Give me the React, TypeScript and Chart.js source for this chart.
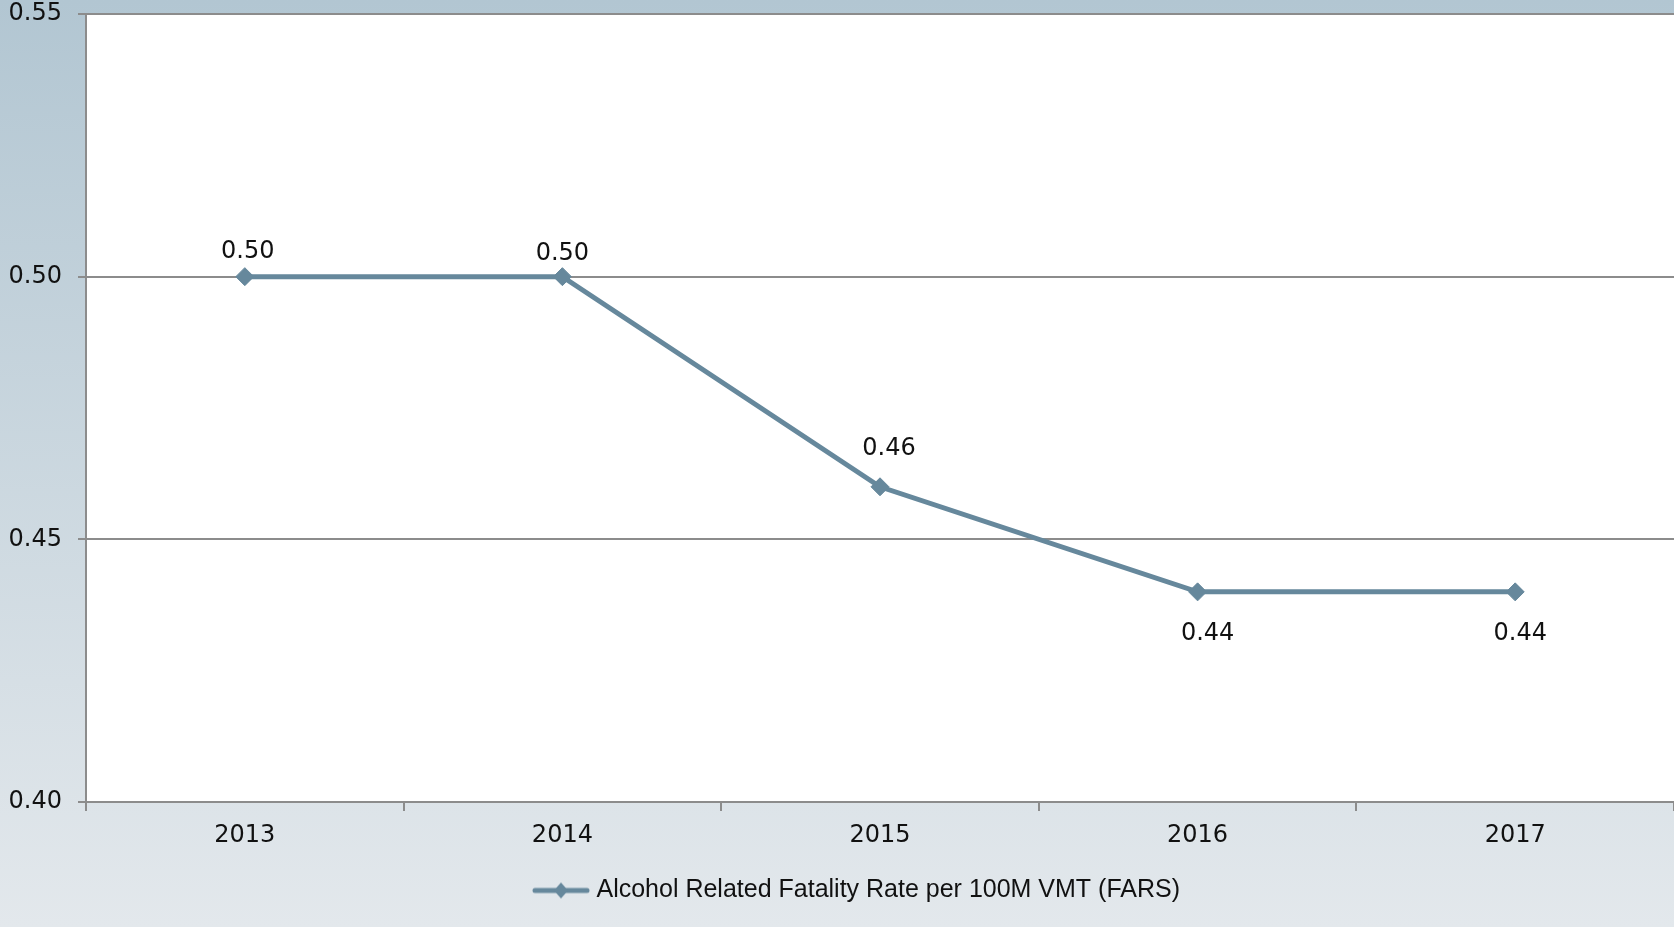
import React, { useEffect, useRef } from "react";
import { Chart, registerables } from "chart.js";

Chart.register(...registerables);

const categories = ["2013", "2014", "2015", "2016", "2017"];
const fatalityRate = [0.5, 0.5, 0.46, 0.44, 0.44];
const seriesLabel = "Alcohol Related Fatality Rate per 100M VMT (FARS)";
const yMin = 0.4;
const yMax = 0.55;
const yStep = 0.05;
// label placement relative to each point (style only)
const labelNudges = [
  { dx: 3, dy: -25 },
  { dx: 0, dy: -23 },
  { dx: 9, dy: -38 },
  { dx: 10, dy: 42 },
  { dx: 5, dy: 42 },
];

const LINE_COLOR = "#66889c";
const NUM_FONT = "'DejaVu Sans', sans-serif";
const TEXT_FONT = "'Liberation Sans', Arial, sans-serif";

function makeLegendIcon(): HTMLCanvasElement {
  const c = document.createElement("canvas");
  c.width = 58;
  c.height = 20;
  const ctx = c.getContext("2d")!;
  ctx.strokeStyle = LINE_COLOR;
  ctx.lineWidth = 5;
  ctx.lineCap = "round";
  ctx.beginPath();
  ctx.moveTo(3, 10);
  ctx.lineTo(55, 10);
  ctx.stroke();
  ctx.fillStyle = LINE_COLOR;
  ctx.beginPath();
  ctx.moveTo(29, 2);
  ctx.lineTo(36, 10);
  ctx.lineTo(29, 18);
  ctx.lineTo(22, 10);
  ctx.closePath();
  ctx.fill();
  return c;
}

const backgroundPlugin = {
  id: "bgPlugin",
  beforeDraw(chart: any) {
    const { ctx, width, height, chartArea } = chart;
    ctx.save();
    const g = ctx.createLinearGradient(0, 0, 0, height);
    g.addColorStop(0, "#b2c6d2");
    g.addColorStop(1, "#e3e8ec");
    ctx.fillStyle = g;
    ctx.fillRect(0, 0, width, height);
    ctx.fillStyle = "#ffffff";
    ctx.fillRect(chartArea.left, chartArea.top, chartArea.right - chartArea.left, chartArea.bottom - chartArea.top);
    ctx.restore();
  },
};

const dataLabelPlugin = {
  id: "dataLabels",
  afterDatasetsDraw(chart: any) {
    const { ctx } = chart;
    const meta = chart.getDatasetMeta(0);
    const values = chart.data.datasets[0].data as number[];
    ctx.save();
    ctx.font = `24px ${NUM_FONT}`;
    ctx.fillStyle = "#111111";
    ctx.textAlign = "center";
    ctx.textBaseline = "middle";
    meta.data.forEach((pt: any, i: number) => {
      const n = labelNudges[i] || { dx: 0, dy: -25 };
      ctx.fillText(values[i].toFixed(2), pt.x + n.dx, pt.y + n.dy);
    });
    ctx.restore();
  },
};

const legendShiftPlugin = {
  id: "legendShift",
  afterLayout(chart: any) {
    if (chart.legend) {
      chart.legend.left += 22;
      chart.legend.right += 22;
    }
  },
};

export default function App() {
  const canvasRef = useRef<HTMLCanvasElement | null>(null);

  useEffect(() => {
    document.body.style.margin = "0";
    document.body.style.overflow = "hidden";
    const icon = makeLegendIcon();
    const chart = new Chart(canvasRef.current!, {
      type: "line",
      data: {
        labels: categories,
        datasets: [
          {
            label: seriesLabel,
            data: fatalityRate,
            borderColor: LINE_COLOR,
            backgroundColor: LINE_COLOR,
            borderWidth: 5,
            pointStyle: "rectRot",
            pointRadius: 9,
            pointHoverRadius: 9,
            pointBackgroundColor: LINE_COLOR,
            pointBorderColor: LINE_COLOR,
            pointBorderWidth: 1,
            tension: 0,
            fill: false,
          },
        ],
      },
      options: {
        animation: false,
        responsive: false,
        maintainAspectRatio: false,
        layout: { autoPadding: false, padding: { top: 14, right: 0, bottom: 14, left: 0 } },
        plugins: {
          tooltip: { enabled: false },
          legend: {
            display: true,
            position: "bottom",
            labels: {
              usePointStyle: true,
              pointStyleWidth: 46,
              padding: 24,
              color: "#111111",
              font: { family: TEXT_FONT, size: 25 },
              generateLabels: () => [
                {
                  text: seriesLabel,
                  pointStyle: icon,
                  fillStyle: LINE_COLOR,
                  strokeStyle: LINE_COLOR,
                  lineWidth: 0,
                  hidden: false,
                  datasetIndex: 0,
                  fontColor: "#111111",
                },
              ],
            },
          },
        },
        scales: {
          x: {
            type: "category",
            offset: true,
            grid: {
              offset: true,
              drawOnChartArea: false,
              drawTicks: true,
              tickLength: 9,
              color: "#8c8c8c",
              lineWidth: 2,
            },
            border: { display: true, color: "#8c8c8c", width: 2 },
            ticks: {
              color: "#111111",
              font: { family: NUM_FONT, size: 24 },
              padding: 10,
              maxRotation: 0,
            },
            afterFit: (scale: any) => {
              scale.height = 52;
              scale.paddingLeft = 0;
              scale.paddingRight = 0;
            },
          },
          y: {
            min: yMin,
            max: yMax,
            grid: {
              drawOnChartArea: true,
              drawTicks: true,
              tickLength: 8,
              color: "#8c8c8c",
              lineWidth: 2,
            },
            border: { display: true, color: "#8c8c8c", width: 2 },
            ticks: {
              stepSize: yStep,
              color: "#111111",
              font: { family: NUM_FONT, size: 24 },
              padding: 16,
              callback: (v: any) => Number(v).toFixed(2),
            },
            afterFit: (scale: any) => {
              scale.width = 86;
              scale.paddingTop = 0;
              scale.paddingBottom = 0;
            },
          },
        },
      },
      plugins: [backgroundPlugin, dataLabelPlugin, legendShiftPlugin],
    });
    return () => chart.destroy();
  }, []);

  return (
    <div style={{ position: "fixed", left: 0, top: 0, width: 1674, height: 927 }}>
      <canvas ref={canvasRef} width={1674} height={927} style={{ width: 1674, height: 927, display: "block" }} />
    </div>
  );
}
